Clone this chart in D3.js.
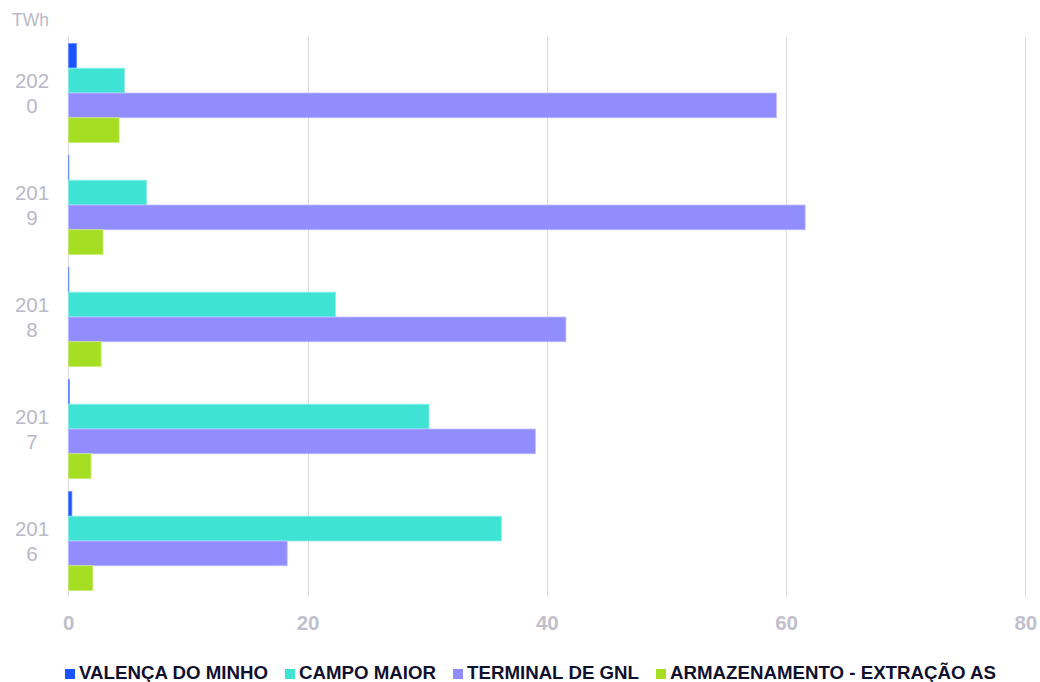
<!DOCTYPE html>
<html>
<head>
<meta charset="utf-8">
<script src="https://cdn.jsdelivr.net/npm/d3@7"></script>
<style>
  html, body { margin: 0; padding: 0; background: #ffffff; }
  svg { display: block; font-family: "Liberation Sans", Arial, sans-serif; }
</style>
</head>
<body>
<svg id="chart" width="1040" height="682"></svg>
<script>
const years = ["2020", "2019", "2018", "2017", "2016"];
const seriesNames = ["VALENÇA DO MINHO", "CAMPO MAIOR", "TERMINAL DE GNL", "ARMAZENAMENTO - EXTRAÇÃO AS"];
const valencaValues = [0.7, 0.05, 0.05, 0.1, 0.3];
const campoMaiorValues = [4.7, 6.55, 22.35, 30.15, 36.2];
const terminalGnlValues = [59.2, 61.6, 41.6, 39.05, 18.3];
const armazenamentoValues = [4.25, 2.9, 2.75, 1.9, 2.05];
const xTicks = [0, 20, 40, 60, 80];
const unitLabel = "TWh";
const colors = ["#1a53ff", "#3ee3d3", "#928dff", "#a5de22"];
const strokeColors = ["#6f93ff", "#8ef0e6", "#c4c1ff", "#cbee7a"];

const allValues = [valencaValues, campoMaiorValues, terminalGnlValues, armazenamentoValues];

const svg = d3.select("#chart");

const x = d3.scaleLinear().domain([0, 80]).range([68.3, 1025.3]);
const y = d3.scaleBand().domain(years).range([37, 597]).paddingInner(0.114).paddingOuter(0.057);
const ySub = d3.scaleBand().domain(d3.range(seriesNames.length)).range([0, y.bandwidth()]).padding(0);

// gridlines
svg.append("g")
  .selectAll("line")
  .data(xTicks)
  .join("line")
  .attr("x1", d => Math.round(x(d)) + 0.5)
  .attr("x2", d => Math.round(x(d)) + 0.5)
  .attr("y1", 37)
  .attr("y2", 597)
  .attr("stroke", "#dcdbe3")
  .attr("stroke-width", 1);

// x axis tick labels
const xAxis = d3.axisBottom(x).tickValues(xTicks).tickSize(0).tickPadding(0);
const gx = svg.append("g").attr("transform", "translate(0,630)").call(xAxis);
gx.select(".domain").remove();
gx.selectAll("text")
  .attr("y", 0)
  .attr("dy", 0)
  .attr("fill", "#c0bfcd")
  .attr("font-size", "20.5px")
  .attr("font-weight", "bold")
  .attr("font-family", "'Liberation Sans', Arial, sans-serif");

// bars
const groups = svg.append("g")
  .selectAll("g")
  .data(years)
  .join("g")
  .attr("transform", d => `translate(0,${y(d)})`);

groups.selectAll("rect")
  .data((yr, i) => allValues.map((vals, s) => ({ s, v: vals[i] })))
  .join("rect")
  .attr("x", x(0))
  .attr("y", d => ySub(d.s))
  .attr("width", d => Math.max(0, x(d.v) - x(0)))
  .attr("height", ySub.bandwidth())
  .attr("fill", d => colors[d.s])
  .attr("stroke", d => strokeColors[d.s])
  .attr("stroke-width", 0.8);

// y category labels (wrapped)
const yLabels = svg.append("g")
  .selectAll("text")
  .data(years)
  .join("text")
  .attr("text-anchor", "middle")
  .attr("fill", "#b9b8c9")
  .attr("font-size", "20.5px");
yLabels.each(function(d) {
  const t = d3.select(this);
  const cy = y(d) + y.bandwidth() / 2;
  t.append("tspan").attr("x", 32).attr("y", cy - 5).text(d.slice(0, 3));
  t.append("tspan").attr("x", 32).attr("y", cy + 19.5).text(d.slice(3));
});

// unit label
svg.append("text")
  .attr("x", 12)
  .attr("y", 26)
  .attr("fill", "#b9b8c9")
  .attr("font-size", "17.5px")
  .text(unitLabel);

// legend
const legend = svg.append("g");
let lx = 65;
seriesNames.forEach((name, i) => {
  legend.append("rect")
    .attr("x", lx)
    .attr("y", 669)
    .attr("width", 10)
    .attr("height", 10)
    .attr("fill", colors[i]);
  const t = legend.append("text")
    .attr("x", lx + 14)
    .attr("y", 679)
    .attr("fill", "#0f0f2e")
    .attr("font-size", "18.7px")
    .attr("font-weight", "bold")
    .text(name);
  lx += 14 + t.node().getComputedTextLength() + 17;
});
</script>
</body>
</html>
